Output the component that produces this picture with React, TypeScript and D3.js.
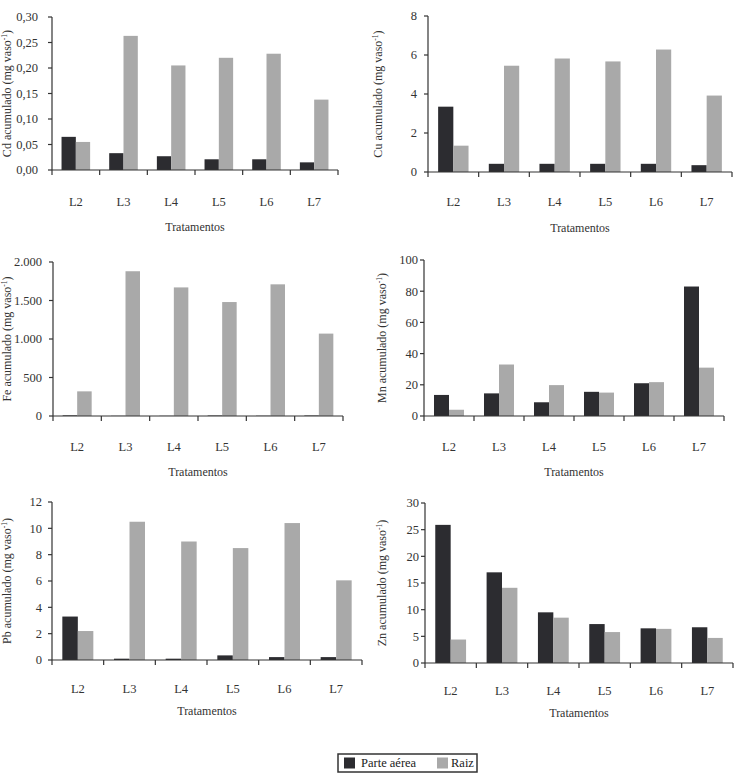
import React from "react";
import * as d3 from "d3";

const categories = ["L2", "L3", "L4", "L5", "L6", "L7"];
const seriesNames = ["Parte aérea", "Raiz"];

const cdParte = [0.065, 0.033, 0.027, 0.021, 0.021, 0.015];
const cdRaiz = [0.055, 0.263, 0.205, 0.22, 0.228, 0.138];
const cdTicks = [0, 0.05, 0.1, 0.15, 0.2, 0.25, 0.3];

const cuParte = [3.35, 0.42, 0.42, 0.42, 0.42, 0.35];
const cuRaiz = [1.35, 5.45, 5.82, 5.67, 6.28, 3.92];
const cuTicks = [0, 2, 4, 6, 8];

const feParte = [8, 2, 2, 6, 3, 6];
const feRaiz = [320, 1880, 1670, 1480, 1710, 1070];
const feTicks = [0, 500, 1000, 1500, 2000];

const mnParte = [13.5, 14.5, 8.8, 15.5, 21, 83];
const mnRaiz = [4, 33, 19.8, 15, 21.7, 31];
const mnTicks = [0, 20, 40, 60, 80, 100];

const pbParte = [3.3, 0.1, 0.1, 0.35, 0.22, 0.22];
const pbRaiz = [2.2, 10.5, 9.0, 8.5, 10.4, 6.05];
const pbTicks = [0, 2, 4, 6, 8, 10, 12];

const znParte = [25.9, 17.0, 9.5, 7.3, 6.5, 6.7];
const znRaiz = [4.4, 14.1, 8.5, 5.8, 6.4, 4.7];
const znTicks = [0, 5, 10, 15, 20, 25, 30];

const locale = d3.formatLocale({
  decimal: ",",
  thousands: ".",
  grouping: [3],
  currency: ["", ""],
});

const DARK = "#2c2c30";
const LIGHT = "#a9a9a9";
const AXIS = "#333";
const FONT = "'Liberation Serif', 'Times New Roman', serif";

type PanelDef = {
  element: string;
  parte: number[];
  raiz: number[];
  ticks: number[];
  fmt: string;
  x0: number;
  x1: number;
  yTop: number;
  y0: number;
  labelY: number;
  trataY: number;
  titleX: number;
  pad: number;
};

const panels: PanelDef[] = [
  { element: "Cd", parte: cdParte, raiz: cdRaiz, ticks: cdTicks, fmt: ".2f", x0: 52, x1: 338, yTop: 17, y0: 170, labelY: 202, trataY: 227, titleX: 11, pad: 14 },
  { element: "Cu", parte: cuParte, raiz: cuRaiz, ticks: cuTicks, fmt: ".0f", x0: 428, x1: 732, yTop: 16, y0: 172, labelY: 202, trataY: 228, titleX: 382, pad: 11 },
  { element: "Fe", parte: feParte, raiz: feRaiz, ticks: feTicks, fmt: ",.0f", x0: 53, x1: 343, yTop: 262, y0: 416, labelY: 447, trataY: 472, titleX: 11, pad: 11 },
  { element: "Mn", parte: mnParte, raiz: mnRaiz, ticks: mnTicks, fmt: ".0f", x0: 424, x1: 724, yTop: 260, y0: 416, labelY: 447, trataY: 472, titleX: 386, pad: 6 },
  { element: "Pb", parte: pbParte, raiz: pbRaiz, ticks: pbTicks, fmt: ".0f", x0: 52, x1: 362, yTop: 502, y0: 660, labelY: 689, trataY: 711, titleX: 11, pad: 10 },
  { element: "Zn", parte: znParte, raiz: znRaiz, ticks: znTicks, fmt: ".0f", x0: 425, x1: 733, yTop: 503, y0: 663, labelY: 691, trataY: 713, titleX: 386, pad: 6 },
];

function Panel({ p }: { p: PanelDef }) {
  const x = d3.scaleBand<string>().domain(categories).range([p.x0, p.x1]).padding(0);
  const bw = x.bandwidth();
  const inner = d3.scaleBand<string>().domain(seriesNames).range([-0.3 * bw, 0.3 * bw]).padding(0);
  const maxT = p.ticks[p.ticks.length - 1];
  const y = d3.scaleLinear().domain([0, maxT]).range([p.y0, p.yTop]);
  const f = locale.format(p.fmt);
  const edges = categories.map((c) => x(c) as number).concat([p.x1]);
  const series = [p.parte, p.raiz];
  const colors = [DARK, LIGHT];
  return (
    <g>
      {categories.map((c, i) =>
        series.map((vals, s) => {
          const cx = (x(c) as number) + bw / 2;
          const bx = cx + (inner(seriesNames[s]) as number);
          return (
            <rect
              key={c + s}
              x={bx}
              y={y(vals[i])}
              width={inner.bandwidth()}
              height={p.y0 - y(vals[i])}
              fill={colors[s]}
            />
          );
        })
      )}
      <line x1={p.x0} x2={p.x0} y1={p.yTop} y2={p.y0} stroke={AXIS} strokeWidth={1.2} />
      {p.ticks.map((t) => (
        <g key={t}>
          <line x1={p.x0 - 4} x2={p.x0} y1={y(t)} y2={y(t)} stroke={AXIS} strokeWidth={1.2} />
          <text x={p.x0 - p.pad} y={y(t)} dy="0.35em" textAnchor="end" fontSize={12.5} fontFamily={FONT} fill="#333">
            {f(t)}
          </text>
        </g>
      ))}
      <line x1={p.x0} x2={p.x1} y1={p.y0} y2={p.y0} stroke={AXIS} strokeWidth={1.2} />
      {edges.map((e, i) => (
        <line key={i} x1={e} x2={e} y1={p.y0} y2={p.y0 + 5} stroke={AXIS} strokeWidth={1.2} />
      ))}
      {categories.map((c) => (
        <text key={c} x={(x(c) as number) + bw / 2} y={p.labelY} dy="0.35em" textAnchor="middle" fontSize={12.5} fontFamily={FONT} fill="#333">
          {c}
        </text>
      ))}
      <text x={(p.x0 + p.x1) / 2} y={p.trataY} dy="0.35em" textAnchor="middle" fontSize={12} fontFamily={FONT} fill="#333">
        Tratamentos
      </text>
      <text
        transform={`translate(${p.titleX},${(p.yTop + p.y0) / 2}) rotate(-90)`}
        textAnchor="middle"
        fontSize={12}
        fontFamily={FONT}
        fill="#333"
      >
        {p.element} acumulado (mg vaso
        <tspan dy={-4} fontSize={7.5}>-1</tspan>
        <tspan dy={4}>)</tspan>
      </text>
    </g>
  );
}

export default function App() {
  return (
    <svg
      width={735}
      height={782}
      style={{ position: "absolute", left: 0, top: 0, background: "#fff" }}
    >
      <rect x={0} y={0} width={735} height={782} fill="#fff" />
      {panels.map((p) => (
        <Panel key={p.element} p={p} />
      ))}
      <g>
        <rect x={338} y={754} width={139} height={18} fill="#fff" stroke={AXIS} strokeWidth={1.5} />
        <rect x={344} y={757.5} width={11} height={11} fill={DARK} />
        <text x={361} y={763} dy="0.35em" fontSize={12.5} fontFamily={FONT} fill="#222">
          {seriesNames[0]}
        </text>
        <rect x={437} y={757.5} width={11} height={11} fill={LIGHT} />
        <text x={451} y={763} dy="0.35em" fontSize={12.5} fontFamily={FONT} fill="#222">
          {seriesNames[1]}
        </text>
      </g>
    </svg>
  );
}
